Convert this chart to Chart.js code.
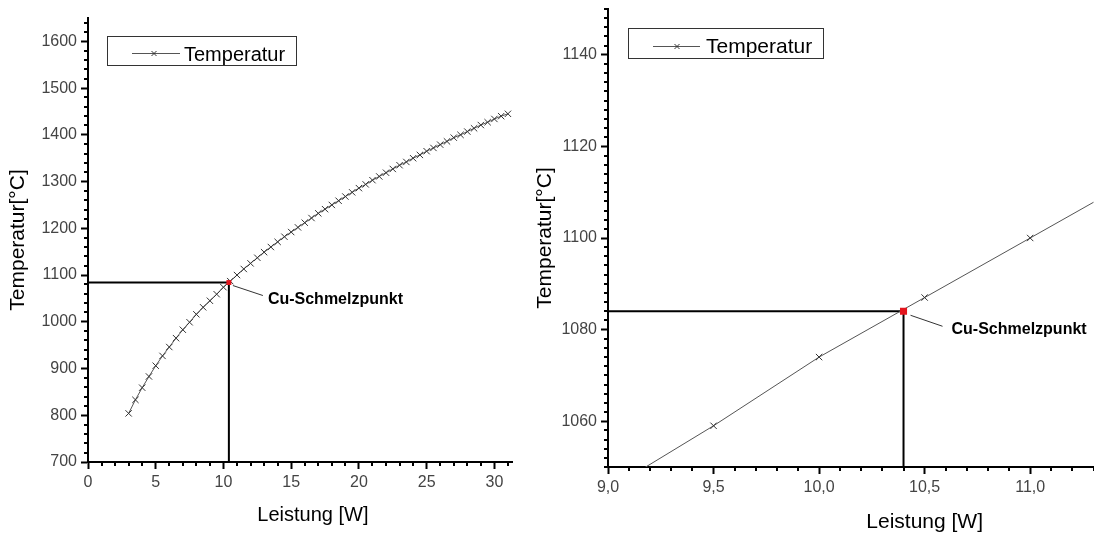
<!DOCTYPE html>
<html>
<head>
<meta charset="utf-8">
<script src="https://cdn.jsdelivr.net/npm/chart.js@4.4.1/dist/chart.umd.min.js"></script>
<style>
  html, body { margin: 0; padding: 0; background: #fff; }
  #wrap { position: relative; width: 1094px; height: 534px; overflow: hidden; }
  #gesamt { position: absolute; left: 0; top: 0; }
  #detail { position: absolute; left: 530px; top: 0; }
</style>
</head>
<body>
<div id="wrap">
  <canvas id="gesamt" width="530" height="534"></canvas>
  <canvas id="detail" width="569" height="534"></canvas>
</div>
<script>
// Messreihe: Leistung [W] gegen Temperatur [°C]
const leistung = [
  3.0, 3.5, 4.0, 4.5, 5.0, 5.5, 6.0, 6.5, 7.0, 7.5,
  8.0, 8.5, 9.0, 9.5, 10.0, 10.5, 11.0, 11.5, 12.0, 12.5,
  13.0, 13.5, 14.0, 14.5, 15.0, 15.5, 16.0, 16.5, 17.0, 17.5,
  18.0, 18.5, 19.0, 19.5, 20.0, 20.5, 21.0, 21.5, 22.0, 22.5,
  23.0, 23.5, 24.0, 24.5, 25.0, 25.5, 26.0, 26.5, 27.0, 27.5,
  28.0, 28.5, 29.0, 29.5, 30.0, 30.5, 31.0
];
const temperatur = [
  804, 833, 859, 883, 906, 927, 946, 965, 983, 999,
  1016, 1031, 1045, 1059, 1074, 1087, 1100, 1113, 1125, 1137,
  1149, 1160, 1171, 1182, 1192, 1202, 1212, 1222, 1232, 1241,
  1250, 1259, 1268, 1277, 1286, 1294, 1303, 1311, 1319, 1327,
  1335, 1342, 1350, 1357, 1365, 1372, 1379, 1386, 1394, 1400,
  1407, 1414, 1421, 1427, 1434, 1440, 1445
];

// Schmelzpunkt von Kupfer
const cuLeistung = 10.4;
const cuTemperatur = 1084;

// Achsenbeschriftungen
const xTicksGesamt = [0, 5, 10, 15, 20, 25, 30];
const yTicksGesamt = [700, 800, 900, 1000, 1100, 1200, 1300, 1400, 1500, 1600];
const xTicksDetail = [9.0, 9.5, 10.0, 10.5, 11.0];
const yTicksDetail = [1060, 1080, 1100, 1120, 1140];

const FONT = "'Liberation Sans', Arial, sans-serif";
Chart.defaults.font.family = FONT;

// kurze Zwischenstriche an beiden Achsen
const minorTicks = {
  id: 'minorTicks',
  afterDraw(chart, args, o) {
    const { ctx, chartArea } = chart;
    ctx.save();
    ctx.strokeStyle = '#000';
    ctx.lineWidth = 2;
    ['x', 'y'].forEach(id => {
      const scale = chart.scales[id];
      const step = o[id];
      const first = Math.ceil(scale.min / step - 1e-9);
      const last = Math.floor(scale.max / step + 1e-9);
      for (let k = first; k <= last; k++) {
        const v = Math.round(k * step * 1000) / 1000;
        if (scale.ticks.some(t => Math.abs(t.value - v) < 1e-6)) continue;
        const p = Math.round(scale.getPixelForValue(v));
        ctx.beginPath();
        if (id === 'x') {
          ctx.moveTo(p, chartArea.bottom);
          ctx.lineTo(p, chartArea.bottom + o.length);
        } else {
          ctx.moveTo(chartArea.left - o.length, p);
          ctx.lineTo(chartArea.left, p);
        }
        ctx.stroke();
      }
    });
    ctx.restore();
  }
};

// Legendenkasten, Schmelzpunkt-Hinweis und x-Achsentitel
const beschriftung = {
  id: 'beschriftung',
  afterDraw(chart, args, o) {
    const { ctx } = chart;
    const kurve = chart.data.datasets[1];
    const pt = chart.getDatasetMeta(0).data[0];
    ctx.save();

    const [bx1, by1, bx2, by2] = o.legendBox;
    ctx.lineWidth = 1;
    ctx.strokeStyle = '#333';
    ctx.strokeRect(bx1 + 0.5, by1 + 0.5, bx2 - bx1, by2 - by1);
    const ly = o.legendY + 0.5;
    ctx.strokeStyle = kurve.borderColor;
    ctx.beginPath();
    ctx.moveTo(o.legendLine[0], ly);
    ctx.lineTo(o.legendLine[1], ly);
    ctx.stroke();
    const c = o.legendCross, r = 2.5;
    ctx.strokeStyle = kurve.pointBorderColor;
    ctx.beginPath();
    ctx.moveTo(c - r, ly - r); ctx.lineTo(c + r, ly + r);
    ctx.moveTo(c - r, ly + r); ctx.lineTo(c + r, ly - r);
    ctx.stroke();
    ctx.fillStyle = '#000';
    ctx.textAlign = 'left';
    ctx.textBaseline = 'alphabetic';
    ctx.font = o.legendSize + 'px ' + FONT;
    ctx.fillText(kurve.label, o.legendTextX, o.legendBaseline);

    const [dx1, dy1, dx2, dy2] = o.pointer;
    ctx.strokeStyle = '#333';
    ctx.beginPath();
    ctx.moveTo(pt.x + dx1, pt.y + dy1);
    ctx.lineTo(pt.x + dx2, pt.y + dy2);
    ctx.stroke();
    ctx.font = 'bold ' + o.labelSize + 'px ' + FONT;
    ctx.textBaseline = 'middle';
    ctx.fillText(chart.data.datasets[0].label, pt.x + o.labelOffset[0], pt.y + o.labelOffset[1]);

    ctx.font = o.xTitleSize + 'px ' + FONT;
    ctx.textAlign = 'center';
    ctx.textBaseline = 'alphabetic';
    ctx.fillText(o.xTitle, chart.scales.x.getPixelForValue(o.xTitleAt), o.xTitleBaseline);
    ctx.restore();
  }
};

function buildChart(canvasId, cfg) {
  const kurve = leistung.map((p, i) => ({ x: p, y: temperatur[i] }));
  return new Chart(document.getElementById(canvasId), {
    type: 'scatter',
    data: {
      datasets: [
        {
          label: 'Cu-Schmelzpunkt',
          data: [{ x: cuLeistung, y: cuTemperatur }],
          pointStyle: 'rect',
          pointRadius: cfg.markRadius,
          pointBackgroundColor: '#e3151d',
          pointBorderWidth: 0
        },
        {
          label: 'Temperatur',
          data: kurve,
          showLine: true,
          borderColor: '#555',
          borderWidth: 1,
          pointStyle: 'crossRot',
          pointRadius: 4.5,
          pointBorderColor: '#333',
          pointBorderWidth: 1
        },
        {
          label: 'Hilfslinien',
          data: [
            { x: cfg.xMin, y: cuTemperatur },
            { x: cuLeistung, y: cuTemperatur },
            { x: cuLeistung, y: cfg.yMin }
          ],
          showLine: true,
          borderColor: '#000',
          borderWidth: 2,
          pointRadius: 0
        }
      ]
    },
    options: {
      responsive: false,
      animation: false,
      devicePixelRatio: 1,
      layout: { padding: { top: cfg.padTop, right: cfg.padRight, left: 0, bottom: 0 } },
      plugins: {
        legend: { display: false },
        tooltip: { enabled: false },
        minorTicks: { x: cfg.xMinor, y: cfg.yMinor, length: 4 },
        beschriftung: cfg.labels
      },
      scales: {
        x: {
          type: 'linear',
          min: cfg.xMin,
          max: cfg.xMax,
          afterBuildTicks: s => { s.ticks = cfg.xTicks.map(v => ({ value: v })); },
          afterFit: s => { s.height = cfg.xAxisHeight; s.paddingLeft = 0; s.paddingRight = 0; },
          ticks: {
            autoSkip: false,
            maxRotation: 0,
            padding: 4,
            color: '#444',
            font: { size: cfg.tickSize },
            callback: cfg.xFormat
          },
          grid: { drawOnChartArea: false, tickLength: 7, tickWidth: 2, tickColor: '#000' },
          border: { color: '#000', width: 2 }
        },
        y: {
          type: 'linear',
          min: cfg.yMin,
          max: cfg.yMax,
          afterBuildTicks: s => { s.ticks = cfg.yTicks.map(v => ({ value: v })); },
          afterFit: s => { s.width = cfg.yAxisWidth; s.paddingTop = 0; s.paddingBottom = 0; },
          ticks: {
            autoSkip: false,
            padding: 4,
            color: '#444',
            font: { size: cfg.tickSize },
            callback: v => String(v)
          },
          grid: { drawOnChartArea: false, tickLength: 7, tickWidth: 2, tickColor: '#000' },
          border: { color: '#000', width: 2 },
          title: {
            display: true,
            text: 'Temperatur[°C]',
            color: '#000',
            font: { size: cfg.titleSize },
            padding: { top: cfg.titlePad, bottom: 0 }
          }
        }
      }
    },
    plugins: [minorTicks, beschriftung]
  });
}

// Gesamtverlauf
buildChart('gesamt', {
  xMin: 0, xMax: 31.3, yMin: 700, yMax: 1650,
  xTicks: xTicksGesamt, yTicks: yTicksGesamt,
  xMinor: 1, yMinor: 20,
  xFormat: v => String(v),
  padTop: 18, padRight: 18, xAxisHeight: 72, yAxisWidth: 88,
  tickSize: 16, titleSize: 21, titlePad: 6, markRadius: 3.5,
  labels: {
    legendBox: [107, 36, 296, 65], legendLine: [132, 180], legendY: 53, legendCross: 154,
    legendTextX: 184, legendBaseline: 61, legendSize: 20,
    pointer: [4, 3, 34, 13], labelOffset: [39, 17], labelSize: 16,
    xTitle: 'Leistung [W]', xTitleAt: 16.6, xTitleBaseline: 521, xTitleSize: 20
  }
});

// Ausschnitt um den Schmelzpunkt
buildChart('detail', {
  xMin: 9.0, xMax: 11.3, yMin: 1050, yMax: 1150,
  xTicks: xTicksDetail, yTicks: yTicksDetail,
  xMinor: 0.1, yMinor: 2,
  xFormat: v => v.toFixed(1).replace('.', ','),
  padTop: 9, padRight: 0, xAxisHeight: 67, yAxisWidth: 78,
  tickSize: 16, titleSize: 21, titlePad: 3, markRadius: 5,
  labels: {
    legendBox: [98, 28, 293, 58], legendLine: [123, 170], legendY: 46, legendCross: 147,
    legendTextX: 176, legendBaseline: 53, legendSize: 21,
    pointer: [7, 4, 39, 15], labelOffset: [48, 18], labelSize: 16,
    xTitle: 'Leistung [W]', xTitleAt: 10.5, xTitleBaseline: 528, xTitleSize: 21
  }
});
</script>
</body>
</html>
